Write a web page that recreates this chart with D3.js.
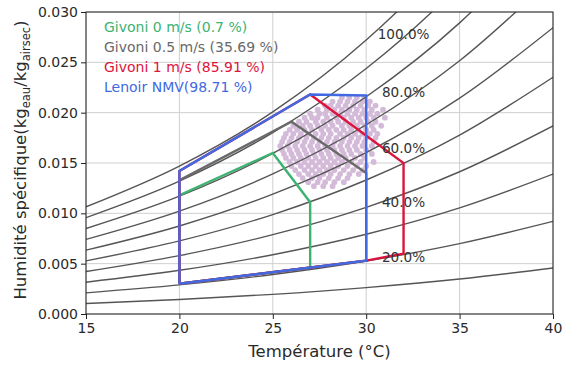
<!DOCTYPE html>
<html>
<head>
<meta charset="utf-8">
<script src="https://cdn.jsdelivr.net/npm/d3@7"></script>
<style>
  body { margin: 0; background: #fff; }
  svg { display: block; font-family: "DejaVu Sans", sans-serif; }
</style>
</head>
<body>
<div id="chart"></div>
<script>
// temperature grid for the humidity curves (°C)
const temps = [15, 20, 25, 30, 35, 40];

// relative humidity curves, specific humidity (kg/kg) at each temperature above
const rhLevels = [10, 20, 30, 40, 50, 60, 70, 80, 90, 100];
const rhValues = [
  [0.00105, 0.00144, 0.00195, 0.00262, 0.00347, 0.00457],
  [0.00210, 0.00289, 0.00392, 0.00526, 0.00699, 0.00920],
  [0.00316, 0.00434, 0.00589, 0.00792, 0.01054, 0.01390],
  [0.00422, 0.00580, 0.00788, 0.01060, 0.01413, 0.01868],
  [0.00528, 0.00726, 0.00988, 0.01331, 0.01777, 0.02352],
  [0.00634, 0.00874, 0.01190, 0.01604, 0.02144, 0.02844],
  [0.00741, 0.01022, 0.01392, 0.01880, 0.02516, 0.03344],
  [0.00849, 0.01170, 0.01596, 0.02158, 0.02892, 0.03851],
  [0.00957, 0.01320, 0.01802, 0.02438, 0.03273, 0.04366],
  [0.01065, 0.01470, 0.02008, 0.02721, 0.03658, 0.04889]
];

// labels printed on the chart
const rhLabelText = ['100.0%', '80.0%', '60.0%', '40.0%', '20.0%'];
const rhLabelT = [32, 32, 32, 32, 32];
const rhLabelW = [0.02732, 0.02156, 0.01599, 0.01063, 0.00517];

// comfort zones [temperature, specific humidity]
const zoneNames = ['Givoni 0 m/s (0.7 %)', 'Givoni 0.5 m/s (35.69 %)', 'Givoni 1 m/s (85.91 %)', 'Lenoir NMV(98.71 %)'];
const zoneColors = ['#3cb371', '#696969', '#dc143c', '#4169e1'];
const givoni0 = [[20, 0.0030], [27, 0.0046], [27, 0.0111], [25, 0.0160], [20, 0.0118], [20, 0.0030]];
const givoni05 = [[20, 0.0030], [30, 0.0053], [30, 0.0140], [26, 0.0191], [20, 0.0133], [20, 0.0030]];
const givoni1 = [[20, 0.0030], [30, 0.0053], [32, 0.0060], [32, 0.0150], [27, 0.0218], [20, 0.0142], [20, 0.0030]];
const lenoir = [[20, 0.0030], [30, 0.0053], [30, 0.0217], [27, 0.0218], [20, 0.0142], [20, 0.0030]];
const zones = [givoni0, givoni05, givoni1, lenoir];

// measured points, grouped by humidity row: [w, temperatures...]
const measureRows = [
  [0.0215, [28.7, 29.1, 29.5, 29.9]],
  [0.0211, [28.2, 28.6, 29.0, 29.4, 29.8, 30.2]],
  [0.0207, [27.8, 28.1, 28.5, 28.9, 29.3, 29.7, 30.1, 30.5]],
  [0.0203, [27.4, 27.9, 28.3, 28.7, 29.1, 29.5, 29.9, 30.3, 30.9]],
  [0.0199, [27.0, 27.5, 27.8, 28.2, 28.6, 29.0, 29.4, 29.8, 30.2, 30.6]],
  [0.0195, [26.7, 27.1, 27.4, 27.9, 28.4, 28.8, 29.2, 29.6, 30.0, 30.4, 31.0]],
  [0.0191, [26.4, 26.8, 27.3, 27.7, 28.1, 28.5, 28.9, 29.3, 29.7, 30.1, 30.5]],
  [0.0187, [26.1, 26.6, 27.0, 27.4, 27.8, 28.2, 28.7, 29.1, 29.5, 29.9, 30.3, 30.8]],
  [0.0183, [25.9, 26.3, 26.7, 27.1, 27.6, 28.0, 28.4, 28.8, 29.2, 29.6, 30.0, 30.4]],
  [0.0179, [25.7, 26.1, 26.5, 26.9, 27.3, 27.7, 28.1, 28.6, 29.0, 29.4, 29.8, 30.2, 30.6]],
  [0.0175, [25.6, 26.0, 26.4, 26.8, 27.2, 27.6, 28.0, 28.4, 28.8, 29.2, 29.6, 30.0, 30.5]],
  [0.0171, [25.5, 25.9, 26.3, 26.7, 27.1, 27.5, 27.9, 28.3, 28.7, 29.1, 29.5, 29.9, 30.4]],
  [0.0167, [25.4, 25.8, 26.2, 26.6, 27.0, 27.4, 27.8, 28.2, 28.6, 29.0, 29.4, 29.8, 30.3]],
  [0.0163, [25.5, 25.9, 26.3, 26.7, 27.1, 27.5, 27.9, 28.3, 28.7, 29.1, 29.5, 30.0]],
  [0.0159, [25.6, 26.0, 26.4, 26.8, 27.2, 27.6, 28.0, 28.4, 28.8, 29.2, 29.7, 30.3]],
  [0.0155, [25.7, 26.1, 26.5, 26.9, 27.3, 27.7, 28.1, 28.5, 28.9, 29.4, 29.9]],
  [0.0151, [25.9, 26.3, 26.7, 27.1, 27.5, 27.9, 28.3, 28.7, 29.2, 29.7, 30.4]],
  [0.0147, [26.0, 26.5, 26.9, 27.3, 27.7, 28.1, 28.5, 29.0, 29.5, 30.0]],
  [0.0143, [26.2, 26.7, 27.1, 27.5, 27.9, 28.3, 28.8, 29.3, 29.8]],
  [0.0139, [26.4, 26.9, 27.3, 27.7, 28.1, 28.6, 29.1, 29.6]],
  [0.0135, [26.6, 27.1, 27.5, 28.0, 28.5, 29.0]],
  [0.0131, [26.9, 27.4, 27.8, 28.3, 28.8]],
  [0.0127, [27.2, 27.7, 28.2]]
];

// axis ticks
const xTicks = [15, 20, 25, 30, 35, 40];
const yTicks = [0, 0.005, 0.010, 0.015, 0.020, 0.025, 0.030];

const W = 566, H = 365;
const margin = {left: 86, right: 13, top: 12, bottom: 51};
const iw = W - margin.left - margin.right;
const ih = H - margin.top - margin.bottom;

const svg = d3.select('#chart').append('svg')
  .attr('width', W)
  .attr('height', H);

const x = d3.scaleLinear().domain([15, 40]).range([0, iw]);
const y = d3.scaleLinear().domain([0, 0.03]).range([ih, 0]);

const g = svg.append('g')
  .attr('transform', `translate(${margin.left},${margin.top})`);

g.append('clipPath').attr('id', 'plotclip')
  .append('rect').attr('width', iw).attr('height', ih);

// grid
g.append('g').selectAll('line').data(xTicks).enter().append('line')
  .attr('x1', d => x(d)).attr('x2', d => x(d))
  .attr('y1', 0).attr('y2', ih)
  .attr('stroke', '#cfcfcf').attr('stroke-width', 1);
g.append('g').selectAll('line').data(yTicks).enter().append('line')
  .attr('x1', 0).attr('x2', iw)
  .attr('y1', d => y(d)).attr('y2', d => y(d))
  .attr('stroke', '#cfcfcf').attr('stroke-width', 1);

const plot = g.append('g').attr('clip-path', 'url(#plotclip)');

// measured points
const points = [];
measureRows.forEach(([w, ts]) => ts.forEach(t => points.push([t, w])));
plot.append('g').selectAll('circle').data(points).enter().append('circle')
  .attr('cx', d => x(d[0]))
  .attr('cy', d => y(d[1]))
  .attr('r', 2.9)
  .attr('fill', '#d4bad9');

// humidity curves
const curve = d3.line()
  .x((d, i) => x(temps[i]))
  .y(d => y(d))
  .curve(d3.curveMonotoneX);
plot.append('g').selectAll('path').data(rhValues).enter().append('path')
  .attr('d', curve)
  .attr('fill', 'none')
  .attr('stroke', '#555')
  .attr('stroke-width', 1.4);

// comfort zones
const zoneLine = d3.line().x(d => x(d[0])).y(d => y(d[1]));
plot.append('g').selectAll('path').data(zones).enter().append('path')
  .attr('d', zoneLine)
  .attr('fill', 'none')
  .attr('stroke', (d, i) => zoneColors[i])
  .attr('stroke-width', 2.4)
  .attr('stroke-linejoin', 'miter');

// curve labels
g.append('g').selectAll('text').data(rhLabelText).enter().append('text')
  .attr('x', (d, i) => x(rhLabelT[i]))
  .attr('y', (d, i) => y(rhLabelW[i]))
  .attr('text-anchor', 'middle')
  .attr('font-size', 13.6)
  .attr('fill', '#333')
  .text(d => d);

// frame
g.append('rect')
  .attr('width', iw).attr('height', ih)
  .attr('fill', 'none').attr('stroke', '#222').attr('stroke-width', 1);

// axes
const xAxis = g.append('g')
  .attr('transform', `translate(0,${ih})`)
  .call(d3.axisBottom(x).tickValues(xTicks).tickSize(5).tickPadding(4).tickFormat(d3.format('d')));
const yAxis = g.append('g')
  .call(d3.axisLeft(y).tickValues(yTicks).tickSize(5).tickPadding(3).tickFormat(d3.format('.3f')));
[xAxis, yAxis].forEach(a => {
  a.select('.domain').remove();
  a.selectAll('.tick line').attr('stroke', '#222');
  a.selectAll('.tick text')
    .attr('fill', '#2a2a2a')
    .attr('font-size', 14)
    .attr('font-family', '"DejaVu Sans", sans-serif');
});

// axis titles
svg.append('text')
  .attr('x', margin.left + iw / 2)
  .attr('y', 357)
  .attr('text-anchor', 'middle')
  .attr('font-size', 16.5)
  .attr('fill', '#2a2a2a')
  .text('Température (°C)');

const ylab = svg.append('text')
  .attr('transform', 'translate(26,160) rotate(-90)')
  .attr('text-anchor', 'middle')
  .attr('font-size', 16.5)
  .attr('fill', '#2a2a2a');
ylab.append('tspan').text('Humidité spécifique(kg');
ylab.append('tspan').attr('font-size', 11.5).attr('dy', 4).text('eau');
ylab.append('tspan').attr('dy', -4).text('/kg');
ylab.append('tspan').attr('font-size', 11.5).attr('dy', 4).text('airsec');
ylab.append('tspan').attr('dy', -4).text(')');

// legend
svg.append('g').selectAll('text').data(zoneNames).enter().append('text')
  .attr('x', 104)
  .attr('y', (d, i) => 32 + i * 20)
  .attr('font-size', 14)
  .attr('fill', (d, i) => zoneColors[i])
  .text(d => d);
</script>
</body>
</html>
